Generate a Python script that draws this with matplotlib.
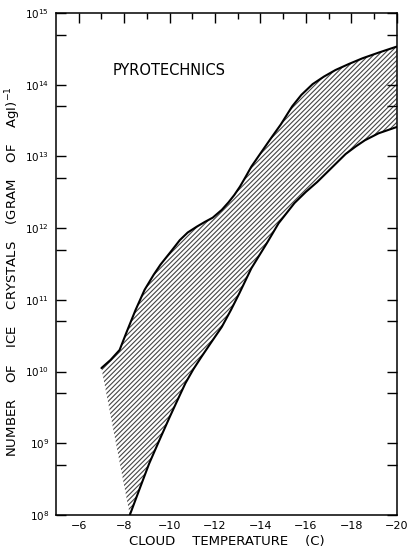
import matplotlib
matplotlib.use("Agg")
import matplotlib.pyplot as plt
import numpy as np

# Data
upper_temp = [-7.0, -7.4, -7.8, -8.1, -8.5, -8.9, -9.3, -9.6, -10.1, -10.45, -10.8,
              -11.2, -11.55, -11.9, -12.3, -12.6, -12.85, -13.1, -13.35, -13.6,
              -14.0, -14.5, -14.9, -15.4, -15.8, -16.3, -16.8, -17.3, -17.9, -18.5,
              -19.2, -20.0]
upper_count = [1.12e10, 1.45e10, 2.0e10, 3.5e10, 7.2e10, 1.38e11, 2.24e11, 3.1e11,
               4.9e11, 6.8e11, 8.7e11, 1.05e12, 1.22e12, 1.4e12, 1.8e12, 2.3e12,
               2.9e12, 3.8e12, 5.2e12, 7.2e12, 1.1e13, 1.86e13, 2.8e13, 5.0e13,
               7.2e13, 1.02e14, 1.3e14, 1.6e14, 1.95e14, 2.34e14, 2.8e14, 3.4e14]
lower_temp = [-8.25, -8.7, -9.1, -9.55, -10.0, -10.35, -10.7, -11.05, -11.4, -11.85,
              -12.3, -12.7, -13.07, -13.6, -14.3, -14.8, -15.5, -16.0, -16.5, -17.0,
              -17.4, -17.75, -18.2, -18.6, -19.2, -20.0]
lower_count = [1.0e8, 2.4e8, 5.2e8, 1.1e9, 2.3e9, 4.0e9, 6.9e9, 1.08e10, 1.6e10,
               2.6e10, 4.2e10, 7.2e10, 1.23e11, 2.75e11, 6.3e11, 1.17e12, 2.24e12,
               3.2e12, 4.4e12, 6.3e12, 8.4e12, 1.08e13, 1.38e13, 1.68e13, 2.1e13,
               2.57e13]

x_ticks = [-6, -8, -10, -12, -14, -16, -18, -20]
x_tick_labels = ["\u22126", "\u22128", "\u221210", "\u221212", "\u221214", "\u221216", "\u221218", "\u221220"]
y_exponents = [8, 9, 10, 11, 12, 13, 14, 15]

plt.rcParams['font.family'] = ['DejaVu Sans']
plt.rcParams['hatch.linewidth'] = 0.8

fig = plt.figure(figsize=(4.12, 5.52), dpi=100)
ax = fig.add_axes([56/412, 1-515/552, (396.7-56)/412, (515-13)/552])

ax.set_yscale('log')
ax.set_xlim(-5, -20)
ax.set_ylim(1e8, 1e15)

# hatched band
poly_x = list(upper_temp) + list(lower_temp[::-1])
poly_y = list(upper_count) + list(lower_count[::-1])
ax.fill(poly_x, poly_y, facecolor='none', edgecolor='#444444', hatch='///////',
        linewidth=0)

ax.plot(upper_temp, upper_count, color='black', lw=1.5, solid_capstyle='round',
        solid_joinstyle='round')
ax.plot(lower_temp, lower_count, color='black', lw=1.5, solid_capstyle='round',
        solid_joinstyle='round')

# axes styling
for s in ax.spines.values():
    s.set_linewidth(1.1)

ax.set_xticks(x_ticks)
ax.set_xticklabels(x_tick_labels, fontsize=8)
ax.set_xticks(np.arange(-6, -20, -1), minor=True)
ax.tick_params(axis='x', which='major', direction='in', top=True, bottom=False,
               length=7, width=1, pad=4, labelbottom=True)
ax.tick_params(axis='x', which='minor', direction='in', top=True, bottom=False,
               length=4, width=1)

ax.set_yticks([10.0**e for e in y_exponents])
ax.set_yticklabels([r'$10^{%d}$' % e for e in y_exponents], fontsize=7.5)
ax.set_yticks([5 * 10.0**e for e in y_exponents[:-1]], minor=True)
ax.yaxis.set_minor_formatter(matplotlib.ticker.NullFormatter())
ax.tick_params(axis='y', which='both', direction='in', left=True, right=True,
               length=7, width=1, pad=5)

ax.text(-7.5, 10**14.2, 'PYROTECHNICS', fontsize=10.5, ha='left', va='center')

ax.set_xlabel('CLOUD    TEMPERATURE    (C)', fontsize=9.5, labelpad=3)
fig.text(13/412, 1-272/552,
         r'NUMBER    OF    ICE    CRYSTALS    (GRAM    OF    AgI)$^{-1}$',
         rotation=90, fontsize=9.5, ha='center', va='center')

fig.savefig('out.png', dpi=100)
